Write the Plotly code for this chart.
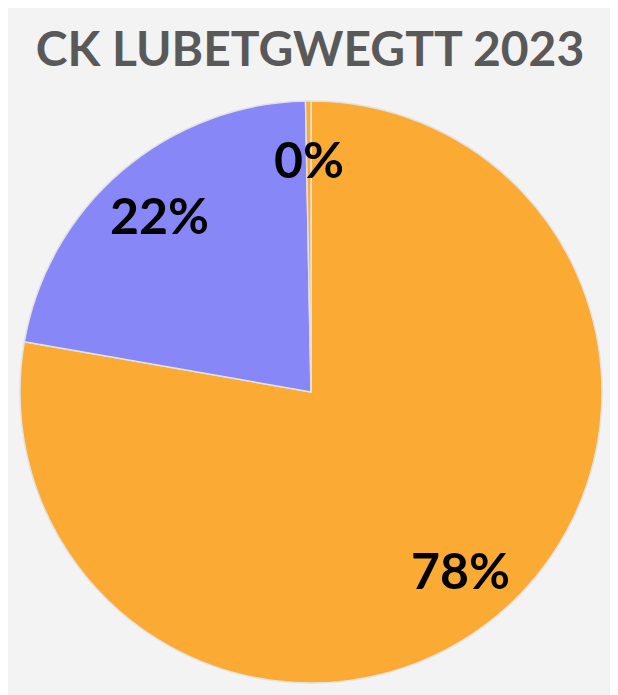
import math
import plotly.graph_objects as go

labels = ["A", "B", "C"]
values = [78, 22, 0.3]
text_labels = ["78%", "22%", "0%"]
colors = ["#FBAA33", "#8787F8", "#FBAA33"]
title_text = "CK LUBETGWEGTT 2023"

W, H = 618, 695
off_x, off_y = 8, 8          # page body margin
cx, cy, r = 311 - off_x, 392 - off_y, 291
label_r = 0.80

fig = go.Figure()
fig.add_trace(go.Pie(
    labels=labels, values=values,
    textinfo="none", sort=False, direction="clockwise", rotation=0,
    marker=dict(colors=colors, line=dict(color="#e2e2e2", width=1.5)),
    showlegend=False, hoverinfo="skip",
    domain=dict(x=[(cx - r) / W, (cx + r) / W], y=[(H - cy - r) / H, (H - cy + r) / H]),
))

# label positions derived from the slice angles (clockwise from 12 o'clock)
total = sum(values)
annotations = []
cum = 0.0
for v, t in zip(values, text_labels):
    mid = (cum + v / 2) / total * 2 * math.pi
    cum += v
    px = cx + label_r * r * math.sin(mid)
    py = cy - label_r * r * math.cos(mid)
    annotations.append(dict(text=t, xref="paper", yref="paper", x=px / W, y=1 - py / H,
                            showarrow=False, xanchor="center", yanchor="middle",
                            font=dict(family="Lato", size=50, color="black", weight="bold")))

fig.update_layout(
    width=W, height=H,
    margin=dict(l=0, r=0, t=0, b=0),
    paper_bgcolor="#f3f3f3",
    title=dict(text=title_text, x=(310 - off_x) / W, xanchor="center",
               y=1 - (49 - off_y) / H, yanchor="middle",
               font=dict(family="Lato", size=48, color="#595959", weight="bold")),
    annotations=annotations,
)

fig.write_html("out.html")
